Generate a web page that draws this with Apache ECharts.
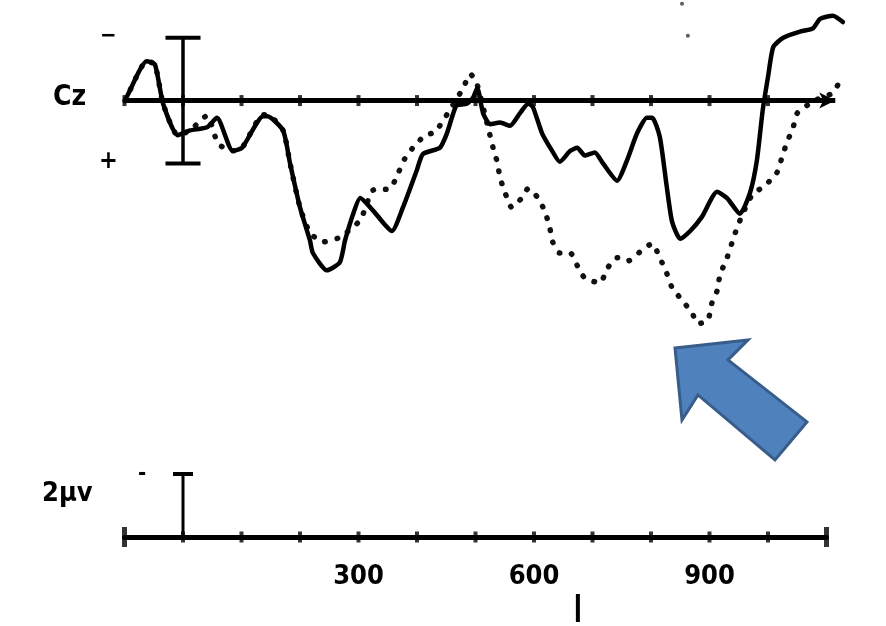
<!DOCTYPE html>
<html><head><meta charset="utf-8">
<script src="https://cdn.jsdelivr.net/npm/echarts@6/dist/echarts.min.js"></script>
<style>html,body{margin:0;padding:0;background:#fff}#c{width:886px;height:626px}</style>
</head><body><div id="c"></div>
<script>
// ---- data (ms, microvolts; negative plotted upward) ----
const solidT = [-99,-94,-62,-48,-34,-9,12,41,58,85,101,137,144,171,183,200,217,222,246,268,277,291,303,325,357,376,400,410,439,451,462,468,485,496,503,513,525,542,559,576,590,598,614,631,644,662,674,687,704,718,742,759,776,793,802,815,827,836,850,867,887,913,930,952,969,981,991,1000,1009,1026,1056,1077,1089,1111,1128];
const solidV = [0,-0.2,-1.25,-1.15,0.1,1.1,0.95,0.85,0.55,1.6,1.5,0.5,0.5,0.95,2.0,3.4,4.45,4.85,5.4,5.15,4.45,3.6,3.1,3.5,4.15,3.4,2.2,1.7,1.5,1.05,0.4,0.15,0.1,-0.1,-0.4,0.4,0.75,0.7,0.8,0.4,0.1,0.2,1.05,1.6,1.95,1.6,1.5,1.75,1.65,2.0,2.55,1.9,1.05,0.55,0.55,1.15,2.75,3.85,4.4,4.15,3.7,2.9,3.1,3.6,2.95,1.9,0.3,-0.75,-1.7,-2.0,-2.2,-2.3,-2.6,-2.7,-2.5];
const dottedT = [-99,-94,-62,-48,-34,-9,12,41,60,85,101,137,144,171,183,200,217,239,268,303,325,354,368,379,393,414,431,456,479,491,503,530,537,542,550,562,579,590,607,619,627,632,644,662,674,687,713,725,742,761,785,802,815,827,836,853,870,880,897,904,913,918,930,938,947,957,973,995,1015,1024,1032,1043,1050,1080,1111,1126];
const dottedV = [0,-0.2,-1.25,-1.15,0.1,1.1,0.95,0.48,1.37,1.6,1.5,0.45,0.45,0.95,2.0,3.4,4.2,4.5,4.35,3.8,2.85,2.8,2.3,1.85,1.5,1.1,1.0,0.3,-0.4,-0.85,-0.5,1.5,1.95,2.45,2.9,3.4,3.1,2.8,3.1,3.55,4.05,4.5,4.85,4.85,5.25,5.65,5.8,5.35,5.0,5.1,4.75,4.55,5.0,5.5,5.95,6.35,6.75,7.1,7.0,6.45,6.05,5.55,5.0,4.55,4.05,3.6,3.0,2.7,2.3,1.8,1.35,0.85,0.4,0,-0.25,-0.75];
const strayT = [853, 863];
const strayV = [-3.08, -2.06];
const axisSpan = [-100, 1100];
const topTicks = [-100,0,100,200,300,400,500,600,700,800,900,1000];
const bottomTicks = [-100,0,100,200,300,400,500,600,700,800,900,1000,1100];
const tickLabels = [300, 600, 900];
const calibTop = [-2, 2];
const calibBottom = [0, -2];

// ---- layout ----
const XMIN = -100, PXMS = 0.585, X0 = 124.5;
const TOP_XMAX = 1150, BOT_XMAX = 1100;
const PXUV = 31.5;
const TOP_ZERO = 100, TOP_MIN = -3.2, TOP_MAX = 8.2;
const BOT_ZERO = 537, BOT_MIN = -2.5, BOT_MAX = 0.5;

const zip = (a, b) => a.map((t, i) => [t, b[i]]);
const chart = echarts.init(document.getElementById('c'), null, {renderer: 'canvas'});
const txtFont = "'DejaVu Sans Condensed','DejaVu Sans',sans-serif";

const yBase = {
  type: 'value', inverse: true,
  axisLine: {show: false}, axisTick: {show: false}, axisLabel: {show: false}, splitLine: {show: false}
};

chart.setOption({
  animation: false,
  backgroundColor: '#fff',
  grid: [
    {left: X0, width: (TOP_XMAX - XMIN) * PXMS, top: TOP_ZERO + TOP_MIN * PXUV, height: (TOP_MAX - TOP_MIN) * PXUV},
    {left: X0, width: (BOT_XMAX - XMIN) * PXMS, top: BOT_ZERO + BOT_MIN * PXUV, height: (BOT_MAX - BOT_MIN) * PXUV}
  ],
  xAxis: [
    {gridIndex: 0, type: 'value', min: XMIN, max: TOP_XMAX, interval: 50,
      splitLine: {show: false}, axisTick: {show: false}, axisLabel: {show: false}, axisLine: {show: false}},
    {gridIndex: 1, type: 'value', min: XMIN, max: BOT_XMAX, interval: 100,
      splitLine: {show: false}, axisTick: {show: false},
      axisLine: {show: true, onZero: true, lineStyle: {color: '#000', width: 5}},
      axisLabel: {show: true, margin: 11, color: '#000', fontSize: 27, fontWeight: 'bold', fontFamily: txtFont,
        formatter: v => tickLabels.indexOf(v) >= 0 ? String(v) : ''}}
  ],
  yAxis: [
    Object.assign({}, yBase, {gridIndex: 0, min: TOP_MIN, max: TOP_MAX}),
    Object.assign({}, yBase, {gridIndex: 1, min: BOT_MIN, max: BOT_MAX})
  ],
  series: [
    {type: 'line', name: 'axis', xAxisIndex: 0, yAxisIndex: 0, data: [], z: 2,
      markLine: {silent: true, symbol: ['none', 'arrow'], symbolSize: [12, 16], label: {show: false},
        lineStyle: {color: '#000', width: 5, type: 'solid'},
        data: [[{coord: [axisSpan[0], 0]}, {coord: [axisSpan[1] + 15, 0]}]]}},
    {type: 'line', name: 'dotted', xAxisIndex: 0, yAxisIndex: 0, data: zip(dottedT, dottedV),
      showSymbol: false, smooth: 0.2, clip: false, z: 3,
      lineStyle: {color: '#111', width: 5.5, type: [0.5, 12], cap: 'round'}},
    {type: 'line', name: 'solid', xAxisIndex: 0, yAxisIndex: 0, data: zip(solidT, solidV),
      showSymbol: false, smooth: 0.2, clip: false, z: 4,
      lineStyle: {color: '#000', width: 4.5, cap: 'round', join: 'round'}},
    {type: 'scatter', xAxisIndex: 0, yAxisIndex: 0, data: topTicks.map(t => [t, 0]),
      symbol: 'rect', symbolSize: [4, 11], itemStyle: {color: '#000'}, clip: false, z: 5},
    {type: 'line', xAxisIndex: 0, yAxisIndex: 0, data: calibTop.map(v => [0, v]),
      symbol: 'rect', symbolSize: [35, 4], showSymbol: true, clip: false, z: 5,
      itemStyle: {color: '#000'}, lineStyle: {color: '#000', width: 3.5}},
    {type: 'scatter', xAxisIndex: 0, yAxisIndex: 0, data: zip(strayT, strayV),
      symbolSize: 4, itemStyle: {color: '#333'}, clip: false},
    {type: 'scatter', xAxisIndex: 1, yAxisIndex: 1, clip: false, z: 5,
      data: bottomTicks.map((t, i) => ({value: [t, 0],
        symbolSize: (i === 0 || i === bottomTicks.length - 1) ? [5, 20] : [4, 11]})),
      symbol: 'rect', itemStyle: {color: '#000'}},
    {type: 'line', xAxisIndex: 1, yAxisIndex: 1, clip: false, z: 5,
      data: [{value: [0, calibBottom[0]], symbol: 'none'}, {value: [0, calibBottom[1]], symbol: 'rect', symbolSize: [20, 4]}],
      showSymbol: true, itemStyle: {color: '#000'}, lineStyle: {color: '#000', width: 3}}
  ]
});

// ---- annotations ----
const tip = chart.convertToPixel({xAxisIndex: 0, yAxisIndex: 0}, [841, 7.87]);
const arrowPts = [[0,0],[73,-8],[53,12],[132,74],[100,112],[23,47],[7,72]].map(p => [tip[0] + p[0], tip[1] + p[1]]);
const cal0 = chart.convertToPixel({xAxisIndex: 1, yAxisIndex: 1}, [0, -2]);
const mark = chart.convertToPixel({xAxisIndex: 1, yAxisIndex: 1}, [675, 0]);
chart.setOption({
  graphic: [
    {type: 'text', left: 53, top: 84, style: {text: 'Cz', font: "bold 28px " + txtFont, fill: '#000'}},
    {type: 'text', left: 100, top: 25, style: {text: '−', font: "bold 22px " + txtFont, fill: '#000'}},
    {type: 'text', left: 99, top: 149, style: {text: '+', font: "bold 25px " + txtFont, fill: '#000'}},
    {type: 'text', left: 42, top: 480, style: {text: '2μv', font: "bold 27px " + txtFont, fill: '#000'}},
    {type: 'text', left: cal0[0] - 45, top: 463, style: {text: '-', font: "bold 22px " + txtFont, fill: '#000'}},
    {type: 'line', shape: {x1: mark[0], y1: 594, x2: mark[0], y2: 622}, style: {stroke: '#000', lineWidth: 4}},
    {type: 'polygon', shape: {points: arrowPts}, z: 10,
      style: {fill: '#4f81bd', stroke: '#385d8a', lineWidth: 3}}
  ]
});
</script>
</body></html>
